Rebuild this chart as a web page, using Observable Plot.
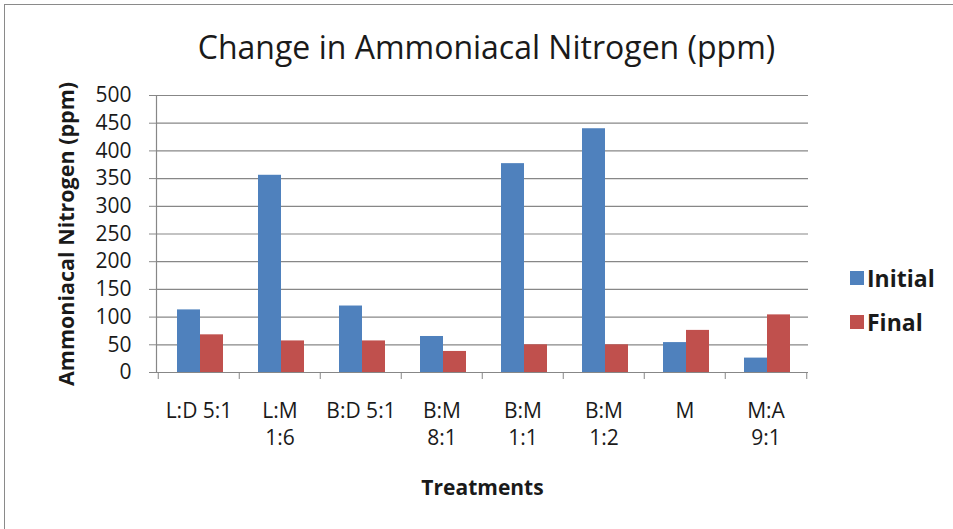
<!DOCTYPE html>
<html>
<head>
<meta charset="utf-8">
<script src="https://cdn.jsdelivr.net/npm/d3@7"></script>
<script src="https://cdn.jsdelivr.net/npm/@observablehq/plot@0.6"></script>
<style>
  html, body { margin: 0; padding: 0; background: #fff; }
  #wrap { position: relative; width: 953px; height: 529px; overflow: hidden; font-family: "Open Sans", sans-serif; color: #1a1a1a; }
  #border { position: absolute; left: 4px; top: 4px; width: 980px; height: 560px; border: 1px solid #8a8a8a; }
  #title { position: absolute; left: 10px; width: 953px; top: 27px; line-height: 40px; text-align: center; font-size: 32px; }
  #chart { position: absolute; left: 0; top: 0; }
  .leg { position: absolute; left: 850px; font-size: 23px; font-weight: bold; line-height: 28px; display: flex; align-items: center; }
  .leg span.sw { display: inline-block; width: 14px; height: 14px; margin-right: 3px; }
</style>
</head>
<body>
<div id="wrap">
  <div id="border"></div>
  <div id="chart"></div>
  <div id="title">Change in Ammoniacal Nitrogen (ppm)</div>
  <div class="leg" style="top:264px"><span class="sw" style="background:#4F81BD"></span>Initial</div>
  <div class="leg" style="top:308px"><span class="sw" style="background:#C0504D"></span>Final</div>
</div>
<script>
const treatments = ["L:D 5:1", "L:M\n1:6", "B:D 5:1", "B:M\n8:1", "B:M\n1:1", "B:M\n1:2", "M", "M:A\n9:1"];
const initialValues = [113, 356, 120, 65, 377, 440, 54, 26];
const finalValues = [68, 57, 57, 38, 50, 50, 76, 104];
const yTicks = [0, 50, 100, 150, 200, 250, 300, 350, 400, 450, 500];
const seriesNames = ["Initial", "Final"];
const seriesColors = ["#4F81BD", "#C0504D"];

const initialData = treatments.map((t, i) => ({t, v: initialValues[i]}));
const finalData = treatments.map((t, i) => ({t, v: finalValues[i]}));

const W = 953, H = 529;
const mL = 156, mR = 145, mT = 95, mB = 157;
const step = (W - mL - mR) / treatments.length;
const barW = 23;
const pIn = 1 - barW / step;
const gray = "#878787";

const plot = Plot.plot({
  width: W,
  height: H,
  marginLeft: mL,
  marginRight: mR,
  marginTop: mT,
  marginBottom: mB,
  style: {fontFamily: "Open Sans, sans-serif", color: "#1a1a1a", background: "transparent"},
  x: {domain: treatments, paddingInner: pIn, paddingOuter: pIn / 2, axis: null},
  y: {domain: [0, 500], axis: null},
  marks: [
    Plot.gridY(yTicks, {stroke: gray, strokeOpacity: 1, strokeWidth: 1.2}),
    Plot.frame({anchor: "left", stroke: gray, strokeWidth: 1.2}),
    Plot.barY(initialData, {x: "t", y: "v", fill: seriesColors[0], dx: -barW / 2 + 1.5}),
    Plot.barY(finalData, {x: "t", y: "v", fill: seriesColors[1], dx: barW / 2 + 1.5}),
    Plot.axisY({ticks: yTicks, tickSize: 7, tickPadding: 18, fontSize: 21, stroke: gray, fill: "#1a1a1a", label: null}),
    Plot.axisY({ticks: [], label: "Ammoniacal Nitrogen (ppm)", labelAnchor: "center", labelOffset: 98, labelArrow: "none", fontSize: 21.5, fontWeight: "bold", fill: "#1a1a1a"}),
    Plot.axisX({tickSize: 0, tickPadding: 26, fontSize: 21, lineHeight: 1.3, fill: "#1a1a1a", label: null}),
    Plot.axisX({tickSize: 7, tickFormat: () => "", dx: -step / 2, stroke: gray, label: null}),
    Plot.axisX({ticks: [treatments[treatments.length - 1]], tickSize: 7, tickFormat: () => "", dx: step / 2, stroke: gray, label: null}),
    Plot.axisX({ticks: [], label: "Treatments", labelAnchor: "center", labelOffset: 122, labelArrow: "none", fontSize: 21, fontWeight: "bold", fill: "#1a1a1a"})
  ]
});
document.getElementById("chart").appendChild(plot);
</script>
</body>
</html>
